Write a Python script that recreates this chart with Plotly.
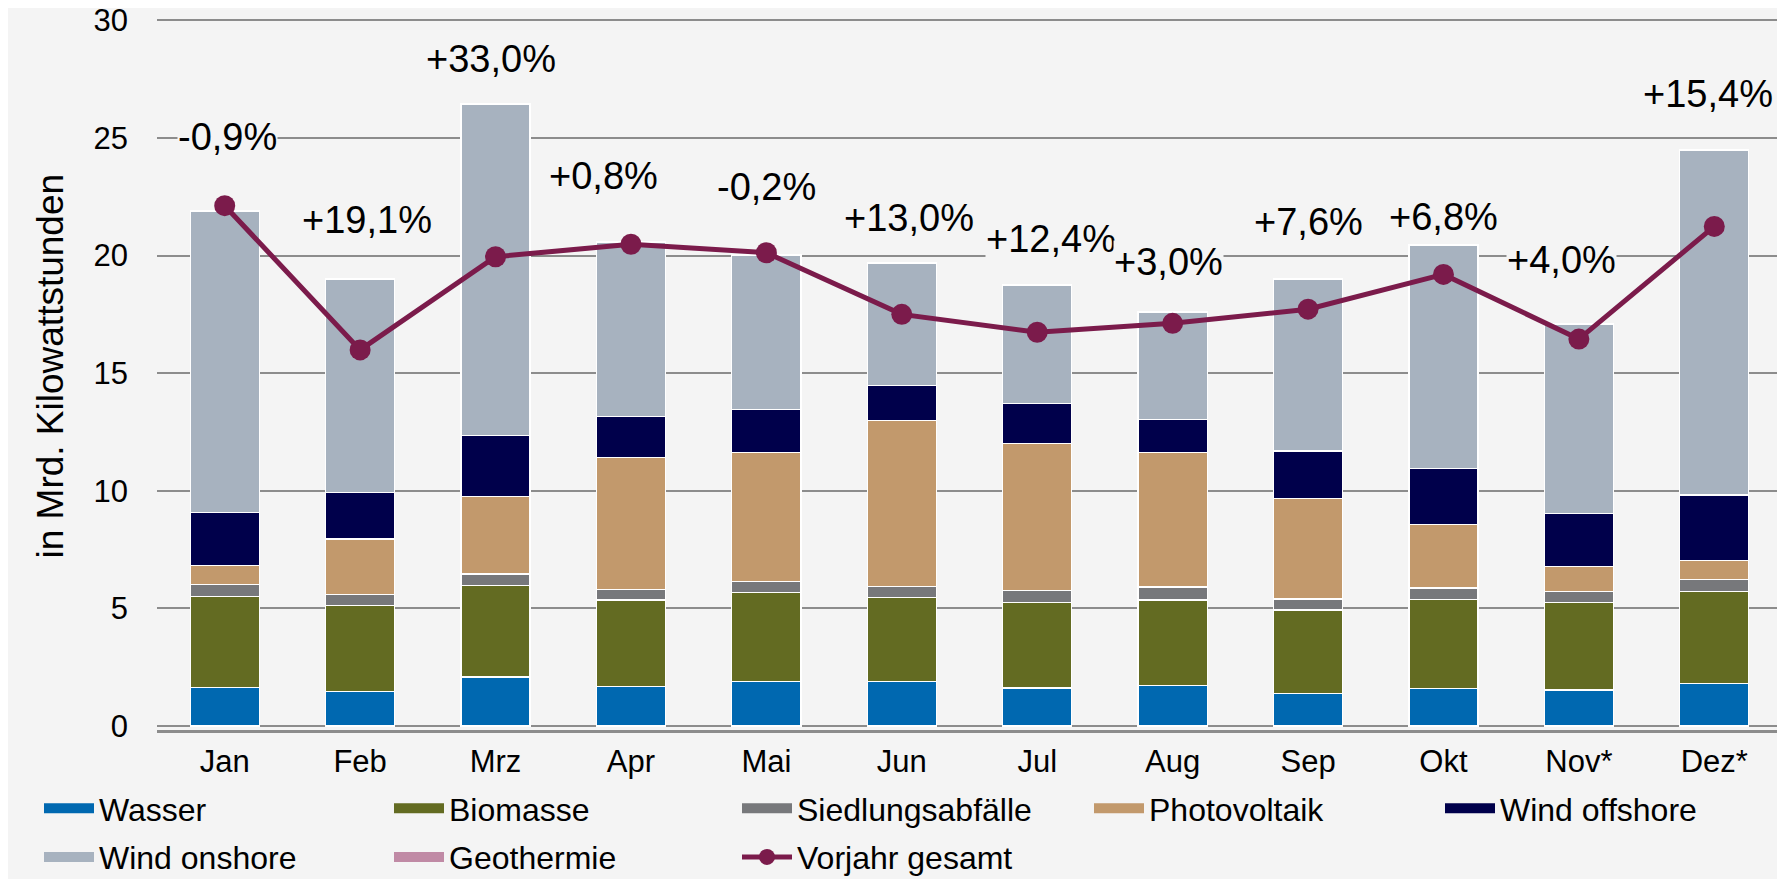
import plotly.graph_objects as go

# months and generation by source (TWh)
months = ["Jan", "Feb", "Mrz", "Apr", "Mai", "Jun", "Jul", "Aug", "Sep", "Okt", "Nov*", "Dez*"]

wasser = [1.64, 1.45, 2.08, 1.69, 1.88, 1.88, 1.62, 1.73, 1.37, 1.60, 1.53, 1.80]
biomasse = [3.87, 3.67, 3.91, 3.67, 3.80, 3.58, 3.64, 3.63, 3.56, 3.79, 3.73, 3.93]
siedlungsabfaelle = [0.49, 0.46, 0.47, 0.45, 0.48, 0.48, 0.51, 0.55, 0.47, 0.48, 0.47, 0.51]
photovoltaik = [0.82, 2.37, 3.29, 5.60, 5.48, 7.04, 6.25, 5.73, 4.28, 2.68, 1.04, 0.80]
wind_offshore = [2.25, 1.97, 2.59, 1.74, 1.82, 1.49, 1.70, 1.40, 2.01, 2.39, 2.27, 2.78]
wind_onshore = [12.81, 9.05, 14.10, 7.42, 6.56, 5.21, 5.00, 4.53, 7.29, 9.49, 8.03, 14.64]
geothermie = [0.03, 0.03, 0.03, 0.03, 0.03, 0.03, 0.03, 0.03, 0.03, 0.03, 0.03, 0.03]

vorjahr_gesamt = [22.12, 15.99, 19.95, 20.48, 20.12, 17.50, 16.74, 17.12, 17.72, 19.20, 16.45, 21.24]

change_labels = ["-0,9%", "+19,1%", "+33,0%", "+0,8%", "-0,2%", "+13,0%",
                 "+12,4%", "+3,0%", "+7,6%", "+6,8%", "+4,0%", "+15,4%"]

# where the change labels sit (category offset, y value)
label_dx = [0.02, 0.05, -0.03, -0.2, 0.0, 0.05, 0.1, -0.03, 0.0, 0.0, -0.13, -0.05]
label_y = [25.04, 21.5, 28.37, 23.39, 22.92, 21.58, 20.69, 19.74, 21.44, 21.65, 19.81, 26.85]

BG = "#f4f4f4"
FONT = "Liberation Sans, Arial, sans-serif"
LINE_COL = "#7b1b4b"

# page sits 8px in from the window corner, so the figure is a bit smaller
W, H = 1777, 871
ML, MR, MT, MB = 149, 3, 10, 149

# (name, values, colour, legend column)
series = [
    ("Wasser", wasser, "#0068b0", "legend"),
    ("Biomasse", biomasse, "#636b22", "legend2"),
    ("Siedlungsabfälle", siedlungsabfaelle, "#77787b", "legend3"),
    ("Photovoltaik", photovoltaik, "#c2996c", "legend4"),
    ("Wind offshore", wind_offshore, "#00004b", "legend5"),
    ("Wind onshore", wind_onshore, "#a7b2bf", "legend"),
    ("Geothermie", geothermie, "#c08aa5", "legend2"),
]

fig = go.Figure()
for name, vals, color, leg in series:
    fig.add_trace(go.Bar(
        x=months, y=vals, name=name, showlegend=False,
        marker=dict(color=color, line=dict(color="white", width=1.2)),
    ))
    # wide flat key for the legend
    fig.add_trace(go.Scatter(
        x=[None], y=[None], name=name, mode="lines",
        legend=leg, legendgroup=name,
        line=dict(color=color, width=14),
    ))

fig.add_trace(go.Scatter(
    x=months, y=vorjahr_gesamt, name="Vorjahr gesamt",
    legend="legend3", legendgroup="Vorjahr gesamt",
    mode="lines+markers",
    line=dict(color=LINE_COL, width=5),
    marker=dict(color=LINE_COL, size=21),
))

for i, txt in enumerate(change_labels):
    fig.add_annotation(
        x=i + label_dx[i], y=label_y[i], xref="x", yref="y",
        text=txt, showarrow=False,
        font=dict(family=FONT, size=38, color="black"),
        bgcolor=BG, borderpad=0,
    )

# y axis title, placed by hand
plot_w = W - ML - MR
plot_h = H - MT - MB
fig.add_annotation(
    x=(19.5 - ML) / plot_w, y=(H - MB - 358.5) / plot_h,
    xref="paper", yref="paper", textangle=-90,
    text="in Mrd. Kilowattstunden", showarrow=False,
    font=dict(family=FONT, size=37, color="black"),
)

# one small vertical legend per column, like the original two-row legend
legend_cols = [31, 381, 729, 1081, 1432]
legend_style = dict(
    orientation="v", traceorder="grouped", tracegroupgap=4,
    xref="container", yref="container",
    y=0.1125, xanchor="left", yanchor="top",
    itemwidth=50,
    font=dict(family=FONT, size=32, color="black"),
    bgcolor="rgba(0,0,0,0)",
)
legends = {}
for k, px in enumerate(legend_cols):
    key = "legend" if k == 0 else "legend%d" % (k + 1)
    legends[key] = dict(legend_style, x=px / W)

fig.update_layout(
    width=W, height=H,
    barmode="stack", bargap=0.49,
    paper_bgcolor=BG, plot_bgcolor=BG,
    margin=dict(l=ML, r=MR, t=MT, b=MB, autoexpand=False),
    font=dict(family=FONT, size=31, color="black"),
    showlegend=True,
    **legends,
)

fig.update_xaxes(
    type="category", range=[-0.5, 11.5], autorange=False,
    showgrid=False,
    showline=True, linecolor="#8c8c8c", linewidth=2.5,
    ticks="", ticklabelstandoff=2,
    tickfont=dict(family=FONT, size=31),
)
fig.update_yaxes(
    range=[-0.17, 30.1], tickvals=[0, 5, 10, 15, 20, 25, 30],
    showgrid=True, gridcolor="#8c8c8c", gridwidth=1.6,
    zeroline=False, showline=False, ticks="",
    ticklabelstandoff=28, ticklabeloverflow="allow",
    tickfont=dict(family=FONT, size=31),
)

fig.write_html("out.html")
